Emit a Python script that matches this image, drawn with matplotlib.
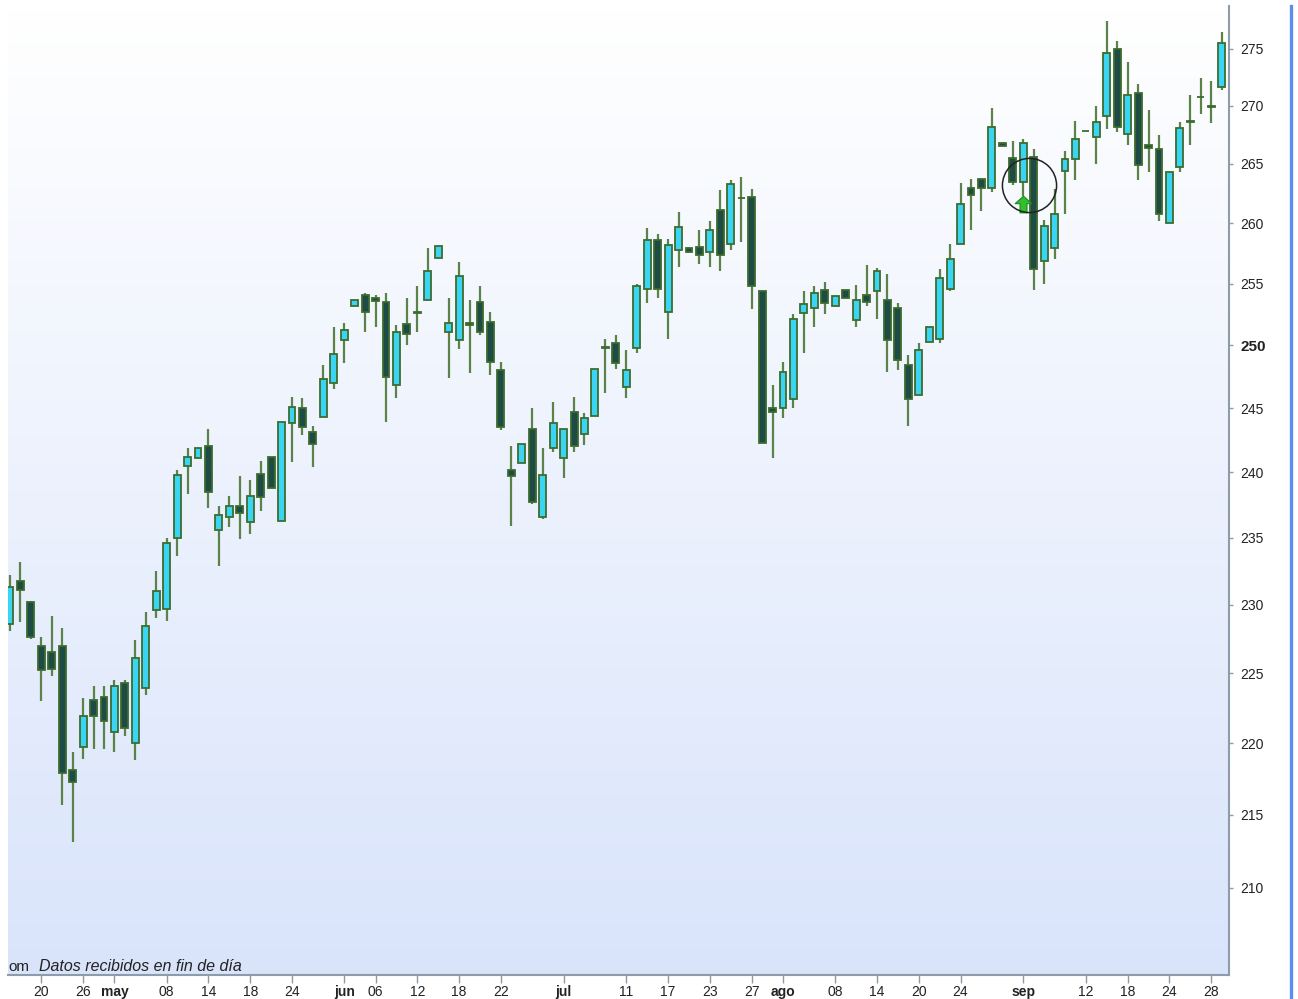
import numpy as np
import matplotlib

matplotlib.use("Agg")
import matplotlib.pyplot as plt
from matplotlib.lines import Line2D
from matplotlib.path import Path

plt.rcParams["font.family"] = ["Liberation Sans", "DejaVu Sans"]

# daily OHLC (one entry per trading session)
opens = [228.6, 231.8, 230.2, 227.0, 226.5, 227.0, 218.1, 219.7, 223.1, 223.3,
         220.8, 224.3, 220.0, 223.9, 229.6, 229.7, 235.0, 240.5, 241.1, 242.0,
         235.6, 236.6, 237.4, 236.2, 239.9, 241.2, 236.3, 243.8, 245.0, 243.1,
         244.3, 247.0, 250.4, 253.2, 254.1, 253.8, 253.5, 246.8, 251.7, 252.7,
         253.7, 257.1, 251.1, 250.4, 251.8, 253.5, 251.9, 248.0, 240.2, 240.7,
         243.4, 236.6, 241.9, 241.1, 244.7, 243.0, 244.4, 249.9, 250.2, 246.7,
         249.8, 254.6, 258.6, 252.7, 257.8, 257.9, 258.0, 257.6, 261.1, 258.3,
         262.15, 262.2, 254.4, 245.0, 245.0, 245.7, 252.6, 253.0, 254.5, 253.2,
         254.5, 252.0, 254.1, 254.4, 253.7, 253.0, 248.4, 246.0, 250.3, 250.5,
         254.6, 258.3, 263.0, 263.7, 263.0, 266.8, 265.5, 263.5, 265.6, 256.9,
         257.9, 264.4, 265.4, 267.85, 267.3, 269.1, 275.0, 267.6, 271.1, 266.6,
         266.3, 260.0, 264.7, 268.6, 270.8, 269.9, 271.6]
highs = [232.2, 233.2, 230.3, 227.6, 229.2, 228.3, 219.4, 223.2, 224.1, 224.1,
         224.5, 224.5, 227.4, 229.5, 232.5, 235.0, 240.2, 241.9, 241.9, 243.4,
         237.4, 238.2, 239.7, 239.4, 240.9, 241.2, 243.9, 245.9, 245.8, 243.6,
         248.4, 251.5, 251.8, 253.7, 254.2, 254.1, 254.2, 251.6, 253.8, 254.8,
         257.9, 258.1, 253.8, 256.8, 253.7, 254.8, 252.7, 248.7, 242.0, 242.2,
         245.0, 241.9, 245.5, 243.4, 245.9, 244.6, 248.1, 250.5, 250.8, 249.6,
         255.0, 259.6, 259.1, 258.7, 260.9, 257.9, 259.4, 260.2, 262.8, 263.6,
         263.9, 262.9, 254.4, 246.8, 248.7, 252.5, 254.4, 254.8, 255.1, 254.0,
         254.5, 254.9, 256.5, 256.3, 255.8, 253.4, 249.2, 250.2, 251.5, 256.2,
         258.3, 263.4, 263.7, 263.7, 269.8, 266.8, 267.0, 267.1, 266.3, 260.3,
         262.9, 266.1, 268.7, 267.85, 270.0, 277.5, 275.7, 273.8, 271.9, 269.6,
         267.5, 264.3, 268.6, 270.9, 272.4, 272.2, 276.5]
lows = [228.1, 228.7, 227.5, 223.0, 224.8, 215.7, 213.1, 218.9, 219.6, 219.6,
        219.4, 220.5, 218.8, 223.4, 229.0, 228.8, 233.6, 238.3, 241.1, 237.3,
        232.9, 235.8, 234.9, 235.3, 237.0, 238.8, 236.3, 240.8, 242.9, 240.4,
        244.3, 246.5, 248.6, 253.2, 251.1, 251.5, 243.9, 245.8, 250.0, 251.1,
        253.7, 257.1, 247.4, 249.7, 247.8, 250.8, 247.6, 243.3, 235.9, 240.7,
        237.6, 236.4, 241.6, 239.6, 241.6, 242.1, 244.4, 246.2, 248.1, 245.8,
        249.4, 253.4, 253.8, 250.5, 256.4, 257.6, 256.6, 256.4, 256.0, 257.8,
        258.4, 252.9, 242.3, 241.1, 244.2, 245.0, 249.4, 251.5, 252.5, 253.2,
        253.8, 251.5, 253.2, 252.1, 247.9, 248.0, 243.6, 246.0, 250.3, 250.2,
        254.4, 258.3, 259.4, 261.0, 262.6, 266.5, 263.2, 262.3, 254.5, 255.0,
        257.0, 260.8, 263.6, 267.8, 265.0, 268.0, 267.7, 266.6, 263.6, 264.3,
        260.2, 260.0, 264.3, 266.6, 269.3, 268.5, 271.4]
closes = [231.3, 231.1, 227.6, 225.2, 225.3, 217.9, 217.3, 221.9, 221.9, 221.6,
          224.1, 221.1, 226.1, 228.4, 231.0, 234.6, 239.8, 241.2, 241.9, 238.5,
          236.7, 237.4, 236.9, 238.2, 238.1, 238.8, 243.9, 245.1, 243.5, 242.2,
          247.3, 249.3, 251.2, 253.7, 252.7, 253.6, 247.5, 251.1, 250.9, 252.6,
          256.0, 258.1, 251.8, 255.6, 251.6, 251.1, 248.7, 243.5, 239.7, 242.2,
          237.7, 239.8, 243.8, 243.4, 242.0, 244.2, 248.1, 249.8, 248.6, 248.0,
          254.8, 258.6, 254.6, 258.2, 259.7, 257.6, 257.4, 259.4, 257.4, 263.3,
          262.1, 254.8, 242.3, 244.7, 247.9, 252.1, 253.3, 254.2, 253.4, 254.0,
          253.8, 253.7, 253.5, 256.0, 250.4, 248.8, 245.7, 249.6, 251.5, 255.5,
          257.0, 261.6, 262.4, 263.0, 268.2, 266.5, 263.5, 266.8, 256.2, 259.8,
          260.8, 265.4, 267.1, 267.8, 268.6, 274.6, 268.2, 270.9, 264.9, 266.4,
          260.8, 264.3, 268.1, 268.7, 270.8, 270.0, 275.5]

tick_idx = [3, 7, 10, 15, 19, 23, 27, 32, 35, 39, 43, 47, 53, 59, 63, 67, 71,
            74, 79, 83, 87, 91, 97, 103, 107, 111, 115]
tick_lbl = ["20", "26", "may", "08", "14", "18", "24", "jun", "06", "12", "18",
            "22", "jul", "11", "17", "23", "27", "ago", "08", "14", "20", "24",
            "sep", "12", "18", "24", "28"]
months = {"may", "jun", "jul", "ago", "sep"}
price_ticks = [210, 215, 220, 225, 230, 235, 240, 245, 250, 255, 260, 265, 270, 275]

# signal marker (circle + buy arrow)
sig_x, sig_y = 97.55, 263.2
arrow_x, arrow_y = 97.0, 261.6

UP_FILL = "#3ad4f4"
DN_FILL = "#1e4b45"
EDGE = "#3d6c2d"
WICK = "#5a8249"

W, H = 1298, 999
fig = plt.figure(figsize=(W / 100, H / 100), dpi=100)
pos = [8 / W, 1 - 975 / H, (1229 - 8) / W, (975 - 6) / H]

bg = fig.add_axes(pos, zorder=0)
grad = np.linspace(0, 1, 256)[:, None]
top = np.array([1.0, 1.0, 1.0])
bot = np.array([0xd9, 0xe4, 0xfb]) / 255
img = top + (bot - top) * grad[:, :, None]
bg.imshow(img, aspect="auto", extent=[0, 1, 0, 1])
bg.set_axis_off()

ax = fig.add_axes(pos, zorder=1)
ax.set_facecolor("none")
ax.set_yscale("log")

o = np.array(opens)
h = np.array(highs)
l = np.array(lows)
c = np.array(closes)
x = np.arange(len(o))
up = c >= o

ax.vlines(x, l, h, color=WICK, lw=1.6, zorder=2)
bodies_lo = np.minimum(o, c)
bodies_hi = np.maximum(o, c)
ax.bar(x, bodies_hi - bodies_lo, bottom=bodies_lo, width=0.66,
       color=np.where(up, UP_FILL, DN_FILL), edgecolor=EDGE, lw=1.3, zorder=3)

# buy signal
ax.plot(sig_x, sig_y, marker="o", ms=39, mfc="none", mec="#222222", mew=1.1,
        zorder=5)
arrow = Path([(0, 1), (1, 0.1), (0.42, 0.1), (0.42, -1), (-0.42, -1),
              (-0.42, 0.1), (-1, 0.1), (0, 1)])
ax.plot(arrow_x, arrow_y, marker=arrow, ms=12, mfc="#2fbf2f", mec="#1f8a1f",
        mew=0.8, zorder=4)

ax.set_xlim(-0.19, 116.7)
ax.set_ylim(204.2, 278.8)

ax.yaxis.tick_right()
ax.set_yticks(price_ticks)
ax.set_yticklabels([str(p) for p in price_ticks])
ax.yaxis.set_minor_locator(matplotlib.ticker.NullLocator())
ax.tick_params(axis="y", which="major", length=3, width=1, color="#8c9cab",
               pad=5, labelsize=10, labelcolor="#222222")
for t in ax.get_yticklabels():
    if t.get_text() == "250":
        t.set_fontweight("bold")
        t.set_fontsize(11)

ax.set_xticks(tick_idx)
ax.set_xticklabels(tick_lbl)
ax.tick_params(axis="x", length=6, width=1, color="#8c9cab", pad=1,
               labelsize=10, labelcolor="#222222")
for t in ax.get_xticklabels():
    if t.get_text() in months:
        t.set_fontweight("bold")

for s in ("left", "top"):
    ax.spines[s].set_visible(False)
for s in ("right", "bottom"):
    ax.spines[s].set_color("#8c9cab")
    ax.spines[s].set_linewidth(1.5)

ax.annotate("om", xy=(0, 0), xycoords="axes fraction", xytext=(0, 1),
            textcoords="offset points", fontsize=11, color="#222222",
            va="bottom", ha="left")
ax.annotate("Datos recibidos en fin de día", xy=(0, 0),
            xycoords="axes fraction", xytext=(22, 1),
            textcoords="offset points", fontsize=11.5, style="italic",
            color="#222222", va="bottom", ha="left")

fig.add_artist(Line2D([1291 / W, 1291 / W], [0, 1 - 6 / H], color="#5b8def",
                      lw=2.4, transform=fig.transFigure))

fig.savefig("out.png", dpi=100)
